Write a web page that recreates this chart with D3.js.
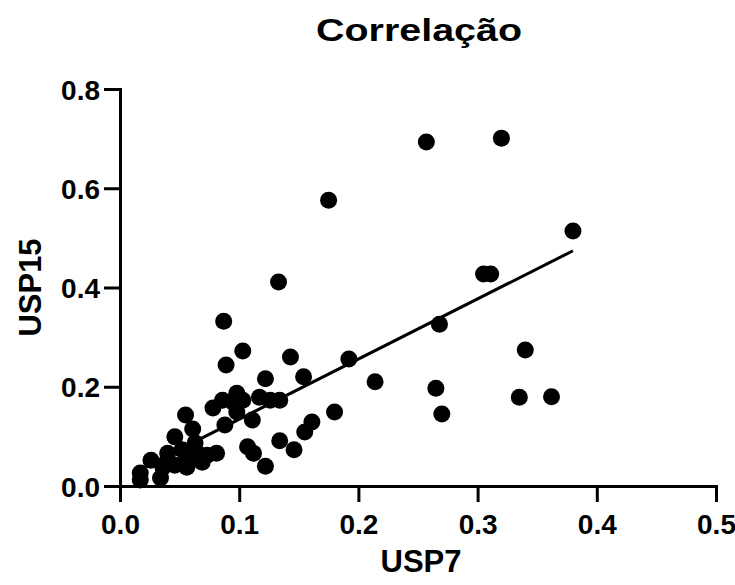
<!DOCTYPE html>
<html>
<head>
<meta charset="utf-8">
<script src="https://cdn.jsdelivr.net/npm/d3@7"></script>
<style>
  html, body { margin: 0; padding: 0; background: #fff; }
  svg { display: block; }
  text { font-family: "Liberation Sans", Arial, Helvetica, sans-serif; font-weight: bold; fill: #000; }
</style>
</head>
<body>
<svg id="chart" width="735" height="585"></svg>
<script>
// ---- data ----
const title = "Correlação";
const xLabel = "USP7";
const yLabel = "USP15";
const xTicks = [0.0, 0.1, 0.2, 0.3, 0.4, 0.5];
const yTicks = [0.0, 0.2, 0.4, 0.6, 0.8];

const usp7 = [
  0.257, 0.320, 0.175, 0.380, 0.133, 0.305, 0.311, 0.268, 0.340, 0.192,
  0.143, 0.154, 0.122, 0.214, 0.265, 0.335, 0.362, 0.270, 0.180, 0.087,
  0.103, 0.089,
  0.098, 0.086, 0.078, 0.095, 0.103, 0.098, 0.117, 0.126, 0.134, 0.111,
  0.088, 0.055, 0.061,
  0.161, 0.155, 0.134, 0.146, 0.107, 0.112, 0.122,
  0.046, 0.026, 0.040, 0.052, 0.017, 0.017, 0.034, 0.036, 0.046, 0.056,
  0.056, 0.065, 0.073, 0.081, 0.069, 0.063
];
const usp15 = [
  0.693, 0.701, 0.576, 0.514, 0.411, 0.427, 0.427, 0.326, 0.274, 0.256,
  0.260, 0.220, 0.216, 0.210, 0.197, 0.179, 0.180, 0.145, 0.149, 0.332,
  0.272, 0.244,
  0.187, 0.173, 0.157, 0.169, 0.173, 0.149, 0.179, 0.173, 0.173, 0.133,
  0.123, 0.143, 0.115,
  0.129, 0.109, 0.091, 0.073, 0.079, 0.066, 0.040,
  0.099, 0.052, 0.066, 0.073, 0.026, 0.012, 0.016, 0.038, 0.042, 0.038,
  0.056, 0.066, 0.062, 0.066, 0.048, 0.087
];
// regression line end points
const fitX = [0.017, 0.380];
const fitY = [0.034, 0.474];

// ---- drawing ----
const svg = d3.select("#chart");
const x = d3.scaleLinear().domain([0, 0.5]).range([120, 716]);
const y = d3.scaleLinear().domain([0, 0.8]).range([486, 89]);

const fmt = d3.format(".1f");

// points
const pts = usp7.map((v, i) => ({ x: v, y: usp15[i] }));
svg.append("g")
  .selectAll("circle")
  .data(pts)
  .join("circle")
  .attr("cx", d => x(d.x))
  .attr("cy", d => y(d.y))
  .attr("r", 8.5)
  .attr("fill", "#000");

// regression line
const line = d3.line().x(d => x(d[0])).y(d => y(d[1]));
svg.append("path")
  .datum(fitX.map((v, i) => [v, fitY[i]]))
  .attr("d", line)
  .attr("fill", "none")
  .attr("stroke", "#000")
  .attr("stroke-width", 3);

// axes
const xAxis = svg.append("g")
  .attr("transform", `translate(0,${y(0)})`)
  .call(d3.axisBottom(x).tickValues(xTicks).tickFormat(fmt).tickSize(16).tickSizeOuter(0).tickPadding(12));
const yAxis = svg.append("g")
  .attr("transform", `translate(${x(0)},0)`)
  .call(d3.axisLeft(y).tickValues(yTicks).tickFormat(fmt).tickSize(16).tickSizeOuter(0).tickPadding(4));

[xAxis, yAxis].forEach(g => {
  g.selectAll(".domain").attr("stroke", "#000").attr("stroke-width", 3).attr("stroke-linecap", "square");
  g.selectAll(".tick line").attr("stroke", "#000").attr("stroke-width", 3);
  g.selectAll(".tick text")
    .style("font-family", '"Liberation Sans", Arial, sans-serif')
    .style("font-weight", "bold")
    .style("font-size", "28px")
    .attr("fill", "#000");
});
yAxis.selectAll(".tick text").attr("dy", "0.36em");

// title
svg.append("text")
  .attr("x", 419).attr("y", 41)
  .attr("text-anchor", "middle")
  .style("font-size", "31px")
  .attr("textLength", 206)
  .attr("lengthAdjust", "spacingAndGlyphs")
  .text(title);

// x label
svg.append("text")
  .attr("x", 421).attr("y", 572)
  .attr("text-anchor", "middle")
  .style("font-size", "31px")
  .text(xLabel);

// y label
svg.append("text")
  .attr("transform", `translate(41,${(y(0) + y(0.8)) / 2}) rotate(-90)`)
  .attr("text-anchor", "middle")
  .style("font-size", "31px")
  .text(yLabel);
</script>
</body>
</html>
